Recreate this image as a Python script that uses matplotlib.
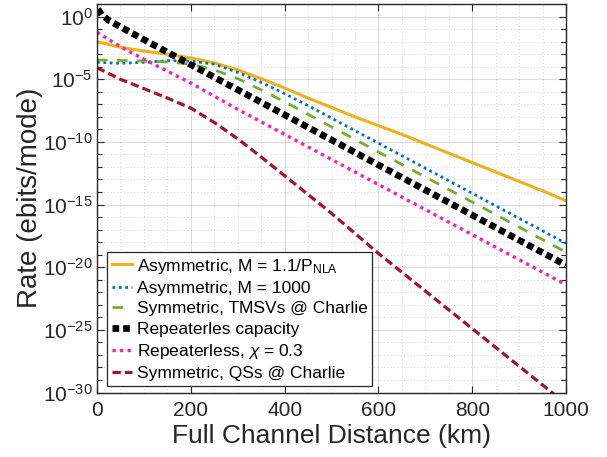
import numpy as np
import matplotlib
matplotlib.use("Agg")
import matplotlib.pyplot as plt
from matplotlib.ticker import MultipleLocator, NullFormatter, FixedLocator

plt.rcParams['font.family'] = ['Liberation Sans', 'DejaVu Sans']
plt.rcParams['mathtext.fontset'] = 'custom'
plt.rcParams['mathtext.rm'] = 'Liberation Sans'
plt.rcParams['mathtext.it'] = 'Liberation Sans:italic'
plt.rcParams['mathtext.default'] = 'regular'

# distance grid (km) and rates, as log10(rate)
dist = [0, 50, 100, 150, 200, 250, 300, 350, 400, 450, 500,
        550, 600, 650, 700, 750, 800, 850, 900, 950, 1000]
asym_nla = [-2.0, -2.45, -2.75, -3.0, -3.3, -3.7, -4.25, -4.95, -5.7, -6.5, -7.25,
            -8.0, -8.7, -9.4, -10.15, -10.9, -11.65, -12.4, -13.15, -13.9, -14.7]
asym_1000 = [-3.65, -3.73, -3.65, -3.52, -3.55, -3.8, -4.45, -5.25, -6.15, -7.1, -8.1,
             -9.1, -10.1, -11.1, -12.1, -13.1, -14.1, -15.1, -16.1, -17.1, -18.1]
sym_tmsv = [-3.46, -3.5, -3.55, -3.62, -3.8, -4.25, -4.95, -5.85, -6.8, -7.8, -8.8,
            -9.8, -10.8, -11.8, -12.8, -13.8, -14.8, -15.8, -16.8, -17.8, -18.8]
dist_cap = [2, 10, 25, 50, 75, 100, 150, 200, 250, 300, 350, 400, 450, 500,
            550, 600, 650, 700, 750, 800, 850, 900, 950, 1000]
capacity = [0.6, 0.15, -0.3, -0.82, -1.33, -1.84, -2.84, -3.84, -4.84, -5.84, -6.84,
            -7.84, -8.84, -9.84, -10.84, -11.84, -12.84, -13.84, -14.84, -15.84,
            -16.84, -17.84, -18.84, -19.84]
repeaterless = [-1.25, -2.4, -3.4, -4.35, -5.3, -6.35, -7.4, -8.4, -9.4, -10.4, -11.4,
                -12.4, -13.4, -14.4, -15.4, -16.4, -17.4, -18.4, -19.4, -20.4, -21.4]
sym_qs = [-4.08, -5.0, -5.75, -6.5, -7.3, -8.45, -9.75, -11.2, -12.7, -14.2, -15.7,
          -17.3, -18.9, -20.4, -21.9, -23.4, -24.9, -26.4, -27.9, -29.4, -30.9]

labels = [r'Asymmetric, M = 1.1/P$_{\mathrm{NLA}}$',
          'Asymmetric, M = 1000',
          'Symmetric, TMSVs @ Charlie',
          'Repeaterles capacity',
          r'Repeaterless, $\mathit{\chi}$ = 0.3',
          'Symmetric, QSs @ Charlie']

fig = plt.figure(figsize=(6.07, 4.57), dpi=100)
ax = fig.add_axes([0.1598, 0.1411, 0.7727, 0.8500])

ax.plot(dist, 10.0**np.array(asym_nla), color='#EDB120', lw=2.2, label=labels[0])
ax.plot(dist, 10.0**np.array(asym_1000), color='#0072BD', lw=2.0,
        linestyle=(0, (1, 1.3)), label=labels[1])
ax.plot(dist, 10.0**np.array(sym_tmsv), color='#77AC30', lw=2.0,
        linestyle=(0, (3.8, 3.4)), label=labels[2])
ax.plot(dist_cap, 10.0**np.array(capacity), color='black', lw=4.8,
        linestyle=(0, (1, 0.6)), label=labels[3])
ax.plot(dist, 10.0**np.array(repeaterless), color='#FF1FA5', lw=2.4,
        linestyle=(0, (1, 1.25)), label=labels[4])
ax.plot(dist, 10.0**np.array(sym_qs), color='#A2142F', lw=2.3,
        linestyle=(0, (2.6, 1.3)), label=labels[5])

ax.set_yscale('log')
ax.set_xlim(0, 1000)
ax.set_ylim(1e-30, 1e1)

ax.xaxis.set_major_locator(MultipleLocator(200))
ax.xaxis.set_minor_locator(MultipleLocator(50))
exps = list(range(-30, 1, 5))
ax.set_yticks([10.0**k for k in exps])
ax.set_yticklabels([r'$10^{%d}$' % k for k in exps])
ax.yaxis.set_minor_locator(FixedLocator([10.0**k for k in range(-30, 2)]))
ax.yaxis.set_minor_formatter(NullFormatter())

spine_col = '#262626'
for s in ax.spines.values():
    s.set_color(spine_col)
    s.set_linewidth(1.0)
ax.tick_params(which='both', direction='in', top=True, right=True,
               colors=spine_col, labelsize=15, width=0.8)
ax.tick_params(which='major', length=5)
ax.tick_params(axis='y', which='minor', length=3.5)
ax.tick_params(axis='x', which='minor', length=0)
ax.tick_params(axis='x', pad=6)
ax.tick_params(axis='y', pad=3)

ax.grid(which='major', color='#262626', alpha=0.15, lw=0.8, linestyle='-')
ax.grid(which='minor', color='#262626', alpha=0.25, lw=0.6, linestyle=(0, (1, 3)))
ax.set_axisbelow(True)

ax.set_xlabel('Full Channel Distance (km)', fontsize=19, color=spine_col, labelpad=3)
ax.set_ylabel('Rate (ebits/mode)', fontsize=20, color=spine_col, labelpad=0)

leg = ax.legend(loc='lower left', bbox_to_anchor=(0.022, 0.018), borderaxespad=0,
                fontsize=12.5, handlelength=1.2, handletextpad=0.25, labelspacing=0.3,
                borderpad=0.25, fancybox=False, framealpha=1, edgecolor='#262626')
leg.get_frame().set_linewidth(0.9)

fig.savefig('out.png', dpi=100)
